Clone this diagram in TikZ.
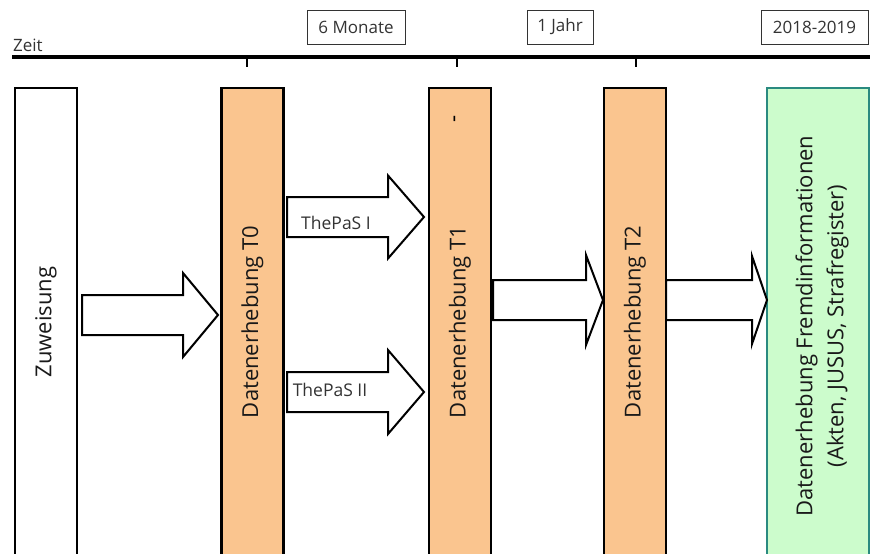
\documentclass[tikz,border=0pt]{standalone}
\usepackage{fontspec}
\setmainfont{Open Sans}
\definecolor{barorange}{HTML}{FAC58F}
\definecolor{boxgreen}{HTML}{CCFCCC}
\definecolor{boxteal}{HTML}{2A8A80}
\definecolor{txtgray}{HTML}{333333}
\newcommand\blkarrow[6]{\draw[blockarr] (#1,#4-#5) -- (#2,#4-#5) -- (#2,#4-#6) -- (#3,#4) -- (#2,#4+#6) -- (#2,#4+#5) -- (#1,#4+#5) -- cycle;}
\begin{document}
\begin{tikzpicture}[x=1pt,y=-1pt,
  bar/.style={draw=black, line width=2.2pt, rotate=90, minimum width=468pt,
    minimum height=62pt, inner sep=0pt, text=black!90,
    font=\fontsize{22}{30}\selectfont},
  blockarr/.style={draw=black, fill=white, line width=2pt, line join=miter},
  toplabel/.style={draw=black!80, line width=0.8pt, inner sep=0pt,
    text=txtgray, font=\fontsize{17}{20}\selectfont},
  armlabel/.style={inner sep=0pt, text=txtgray, font=\fontsize{17.5}{20}\selectfont},
  tickmark/.style={line width=2pt}]
\useasboundingbox (0,0) rectangle (870,554);
\clip (0,0) rectangle (870,554);
% timeline
\coordinate (tl0) at (12,56.5);
\coordinate (tl1) at (872,56.5);
\draw[line width=4pt] (tl0) -- (tl1);
\node[anchor=base west, inner sep=0pt, text=txtgray, font=\fontsize{17}{20}\selectfont] (zeit) at (13,51) {Zeit};
\coordinate (k1a) at (247,56); \coordinate (k1b) at (247,67);
\coordinate (k2a) at (457,56); \coordinate (k2b) at (457,67);
\coordinate (k3a) at (636,56); \coordinate (k3b) at (636,67);
\draw[tickmark] (k1a) -- (k1b);
\draw[tickmark] (k2a) -- (k2b);
\draw[tickmark] (k3a) -- (k3b);
% top labels
\node[toplabel, minimum width=98pt, minimum height=34pt] (sechs) at (356,27) {6 Monate};
\node[toplabel, minimum width=66pt, minimum height=34pt] (jahr) at (560,27) {1 Jahr};
\node[toplabel, minimum width=107pt, minimum height=34pt] (jahre) at (814.5,27) {2018-2019};
% bars
\node[bar, fill=white] (zuw) at (46,322) {Zuweisung};
\node[bar, fill=barorange] (t0) at (252.5,322) {Datenerhebung T0};
\node[bar, fill=barorange] (t1) at (460,322) {Datenerhebung T1};
\node[bar, fill=barorange] (t2) at (635,322) {Datenerhebung T2};
\node[bar, fill=boxgreen, draw=boxteal, minimum height=102pt] (fremd) at (818,322) {};
\node[rotate=90, inner sep=0pt, align=center, text=black!90,
  font=\fontsize{22}{31}\selectfont] (fremdtxt) at (822,326)
  {Datenerhebung Fremdinformationen\\(Akten, JUSUS, Strafregister)};
\node[rotate=90, inner sep=0pt, font=\fontsize{22}{26}\selectfont] (dash) at (457,119) {-};
% block arrows
\blkarrow{82}{183}{218}{315}{20}{42}
\blkarrow{287}{388}{424}{217}{20}{41.5}
\blkarrow{287}{388}{424}{392}{20}{42}
\blkarrow{493}{586}{603}{300}{20}{45}
\blkarrow{666}{752}{767}{300}{20}{44}
\node[armlabel] (pas1) at (336,223) {ThePaS I};
\node[armlabel] (pas2) at (330,390) {ThePaS II};
\end{tikzpicture}
\end{document}
